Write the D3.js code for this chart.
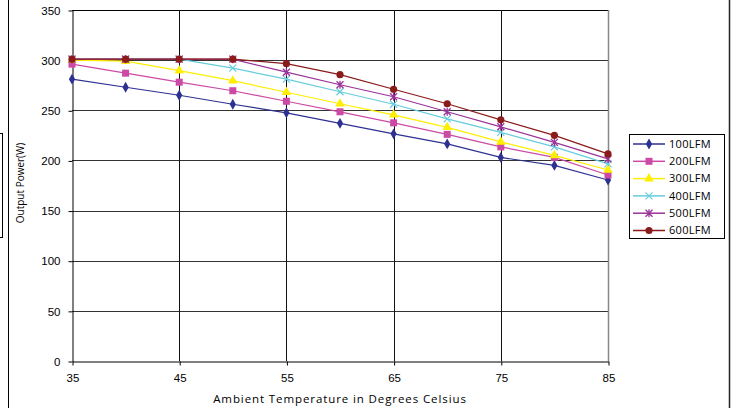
<!DOCTYPE html>
<html lang="en">
<head>
  <meta charset="UTF-8">
  <title>Output Power vs Ambient Temperature</title>
  <style>
    body { margin: 0; background: #fff; }
    svg { display: block; font-family: "Open Sans", "Noto Sans", sans-serif; }
    .axis path, .axis line { stroke: #000; }
    .axis text { font-size: 11.5px; fill: #000; }
  </style>
</head>
<body>
  <svg width="733" height="408"></svg>
  <script src="https://d3js.org/d3.v7.min.js"></script>
  <script>
    // temperatures (x) and output power per airflow (y)
    var temps = [35, 40, 45, 50, 55, 60, 65, 70, 75, 80, 85];
    var lfm100 = [281, 273, 265, 256, 247.5, 237, 226.5, 216.5, 203, 195, 180.5];
    var lfm200 = [296, 287, 278, 269.5, 259, 248.5, 237.5, 226, 213.5, 203, 185.5];
    var lfm300 = [300, 299, 289.5, 279.5, 268, 256.5, 245.5, 233, 218.5, 205, 190.5];
    var lfm400 = [301, 301, 301, 292, 281, 268.5, 256, 241.5, 228, 213.5, 196.5];
    var lfm500 = [301, 301, 301, 301, 288, 275.5, 263.5, 248.5, 233.5, 218, 201.5];
    var lfm600 = [301, 301, 301, 301, 296.5, 285.5, 271, 256.5, 240.5, 225, 206.5];
    var seriesNames = ['100LFM', '200LFM', '300LFM', '400LFM', '500LFM', '600LFM'];
    var xTicks = [35, 45, 55, 65, 75, 85];
    var yTicks = [0, 50, 100, 150, 200, 250, 300, 350];

    var series = [
      { name: seriesNames[0], values: lfm100, color: '#2e3192', shape: 'diamond' },
      { name: seriesNames[1], values: lfm200, color: '#cc4aa6', shape: 'square' },
      { name: seriesNames[2], values: lfm300, color: '#ffee00', shape: 'triangle' },
      { name: seriesNames[3], values: lfm400, color: '#66ccdd', shape: 'cross' },
      { name: seriesNames[4], values: lfm500, color: '#993399', shape: 'star' },
      { name: seriesNames[5], values: lfm600, color: '#8b1a1a', shape: 'circle' }
    ];

    var svg = d3.select('svg');
    var plot = { left: 72, right: 608, top: 10, bottom: 361 };

    var xScale = d3.scaleLinear().domain([35, 85]).range([plot.left, plot.right]);
    var yScale = d3.scaleLinear().domain([0, 350]).range([plot.bottom, plot.top]);

    // outer frame (only the side edges show)
    svg.append('line').attr('x1', 8.5).attr('x2', 8.5).attr('y1', 0).attr('y2', 408)
      .style('stroke', '#000');
    svg.append('line').attr('x1', 729.5).attr('x2', 729.5).attr('y1', 0).attr('y2', 408)
      .style('stroke', '#222').style('stroke-width', 1.5);
    svg.append('rect').attr('x', -10).attr('y', 133.5).attr('width', 12.5).attr('height', 104)
      .style('fill', 'none').style('stroke', '#000');

    // gridlines
    svg.append('g').selectAll('line').data(yTicks.slice(1)).enter().append('line')
      .attr('x1', plot.left).attr('x2', plot.right)
      .attr('y1', d => Math.round(yScale(d)) + 0.5).attr('y2', d => Math.round(yScale(d)) + 0.5)
      .style('stroke', d => d === 350 ? '#000' : '#333');
    svg.append('g').selectAll('line').data(xTicks.slice(1)).enter().append('line')
      .attr('x1', d => Math.round(xScale(d)) + 0.5).attr('x2', d => Math.round(xScale(d)) + 0.5)
      .attr('y1', plot.top).attr('y2', plot.bottom)
      .style('stroke', d => d === 85 ? '#888' : '#111')
      .style('stroke-width', d => d === 85 ? 1.5 : 1);

    // axes
    var yAxis = d3.axisLeft(yScale).tickValues(yTicks).tickSize(4).tickPadding(8).tickSizeOuter(0);
    var xAxis = d3.axisBottom(xScale).tickValues(xTicks).tickSize(4).tickPadding(8).tickSizeOuter(0);
    svg.append('g').attr('class', 'axis')
      .attr('transform', 'translate(' + [plot.left + 0.5, 0.5] + ')')
      .call(yAxis);
    svg.append('g').attr('class', 'axis')
      .attr('transform', 'translate(' + [0.5, plot.bottom + 0.5] + ')')
      .call(xAxis);

    // axis titles
    svg.append('text')
      .attr('x', xScale(60)).attr('y', 403)
      .attr('text-anchor', 'middle')
      .style('font-size', '11.5px')
      .style('letter-spacing', '0.9px')
      .text('Ambient Temperature in Degrees Celsius');
    svg.append('text')
      .attr('transform', 'translate(24,183) rotate(-90)')
      .attr('text-anchor', 'middle')
      .style('font-size', '10px')
      .text('Output  Power(W)');

    // marker drawing
    function drawMarker(g, shape, color) {
      if (shape === 'diamond') {
        g.append('path').attr('d', d3.symbol(d3.symbolDiamond, 34)()).style('fill', color);
      } else if (shape === 'square') {
        g.append('rect').attr('x', -3.5).attr('y', -3.5).attr('width', 7).attr('height', 7).style('fill', color);
      } else if (shape === 'triangle') {
        g.append('path').attr('d', d3.symbol(d3.symbolTriangle, 40)()).style('fill', color);
      } else if (shape === 'cross') {
        g.append('path').attr('d', 'M-3.5,-3.5L3.5,3.5M-3.5,3.5L3.5,-3.5')
          .style('stroke', color).style('stroke-width', 1.2).style('fill', 'none');
      } else if (shape === 'star') {
        g.append('path').attr('d', 'M-3.5,-3.5L3.5,3.5M-3.5,3.5L3.5,-3.5M0,-4L0,4')
          .style('stroke', color).style('stroke-width', 1.3).style('fill', 'none');
      } else {
        g.append('circle').attr('r', 3.6).style('fill', color);
      }
    }

    var line = d3.line()
      .x((d, i) => xScale(temps[i]))
      .y(d => yScale(d));

    series.forEach(s => {
      svg.append('path')
        .attr('d', line(s.values))
        .style('fill', 'none')
        .style('stroke', s.color)
        .style('stroke-width', 1.2);
      s.values.forEach((v, i) => {
        var g = svg.append('g').attr('transform', 'translate(' + [xScale(temps[i]), yScale(v)] + ')');
        drawMarker(g, s.shape, s.color);
      });
    });

    // legend
    var legend = svg.append('g');
    legend.append('rect')
      .attr('x', 629.5).attr('y', 134.5).attr('width', 95).attr('height', 104)
      .style('fill', '#fff').style('stroke', '#000');
    series.forEach((s, i) => {
      var y = 144 + i * 17.3;
      legend.append('line').attr('x1', 633).attr('x2', 665).attr('y1', y).attr('y2', y)
        .style('stroke', s.color).style('stroke-width', 1.5);
      var g = legend.append('g').attr('transform', 'translate(' + [649, y] + ')');
      drawMarker(g, s.shape, s.color);
      legend.append('text').attr('x', 669).attr('y', y).attr('dy', '0.35em')
        .style('font-size', '11px').style('letter-spacing', '0.3px').text(s.name);
    });
  </script>
</body>
</html>
